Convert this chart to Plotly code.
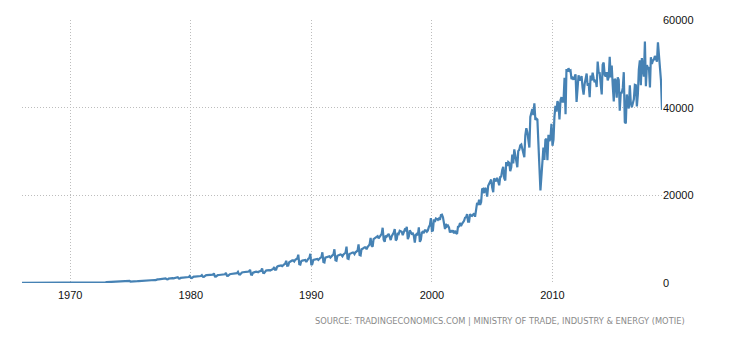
import pandas as pd
import plotly.graph_objects as go

# Monthly exports, USD million, Jan 1966 - Feb 2019
exports_1966_1969 = [
    15, 16, 19, 20, 21, 20, 22, 21, 22, 23, 24, 27,
    20, 22, 25, 26, 27, 27, 28, 27, 28, 29, 30, 35,
    28, 30, 35, 37, 38, 38, 40, 38, 40, 41, 43, 50,
    40, 42, 48, 50, 52, 53, 54, 52, 54, 56, 58, 66,
]
exports_1970s = [
    55, 56, 65, 68, 70, 71, 72, 70, 73, 75, 78, 85,
    70, 72, 84, 87, 89, 90, 92, 88, 92, 95, 98, 110,
    105, 108, 125, 130, 135, 138, 140, 135, 140, 145, 150, 175,
    190, 200, 240, 255, 265, 275, 280, 275, 285, 295, 300, 360,
    330, 320, 360, 370, 380, 385, 375, 350, 365, 370, 385, 470,
    330, 320, 390, 410, 420, 430, 430, 410, 440, 460, 480, 560,
    500, 490, 600, 630, 640, 650, 660, 640, 670, 700, 720, 820,
    680, 650, 780, 820, 840, 850, 860, 830, 870, 900, 920, 1040,
    850, 820, 990, 1040, 1060, 1080, 1090, 1050, 1100, 1130, 1160, 1330,
    1020, 1000, 1190, 1230, 1260, 1280, 1280, 1230, 1300, 1330, 1360, 1580,
]
exports_1980s = [
    1200, 1150, 1380, 1440, 1460, 1480, 1500, 1430, 1510, 1560, 1600, 1800,
    1450, 1420, 1680, 1750, 1780, 1800, 1800, 1740, 1830, 1880, 1920, 2200,
    1500, 1480, 1740, 1800, 1830, 1850, 1850, 1780, 1880, 1930, 1980, 2330,
    1650, 1620, 1930, 2010, 2050, 2080, 2070, 1980, 2110, 2170, 2240, 2540,
    2000, 1950, 2310, 2400, 2450, 2480, 2480, 2380, 2520, 2590, 2660, 3020,
    1950, 1900, 2380, 2480, 2540, 2570, 2560, 2450, 2620, 2700, 2790, 3330,
    2300, 2250, 2720, 2850, 2900, 2950, 2950, 2850, 3010, 3120, 3200, 3620,
    3000, 3050, 3700, 3850, 3950, 4000, 4000, 3850, 4150, 4250, 4400, 5080,
    3950, 4000, 4750, 4950, 5050, 5150, 5150, 4900, 5300, 5450, 5600, 6450,
    4300, 4200, 4950, 5100, 5200, 5300, 5250, 4800, 5350, 5550, 5700, 6650,
]
exports_1990s = [
    4100, 4350, 5250, 5300, 5400, 5500, 5500, 5250, 5600, 5750, 5900, 7000,
    4800, 4700, 5800, 5900, 6000, 6100, 6100, 5800, 6150, 6300, 6500, 7700,
    5200, 5100, 6200, 6300, 6400, 6500, 6400, 6100, 6500, 6700, 6900, 8300,
    5600, 5500, 6600, 6700, 6850, 6950, 6950, 6600, 7000, 7250, 7400, 8800,
    6400, 6300, 7700, 7800, 8000, 8150, 8150, 7700, 8200, 8500, 8800, 10300,
    8500, 8300, 10000, 10200, 10400, 10600, 10700, 10200, 10600, 11000, 11200, 12600,
    9900, 9400, 10800, 10600, 11000, 11200, 10500, 9800, 10700, 11100, 11500, 12300,
    9700, 10000, 11400, 11200, 11900, 11800, 11700, 10900, 11500, 12200, 12000, 12800,
    10000, 10600, 12000, 11500, 11200, 11300, 10800, 9200, 11000, 11200, 10900, 12700,
    9400, 9900, 11500, 11700, 11400, 12000, 12000, 11700, 12000, 12800, 13200, 14800,
]
exports_2000s = [
    11900, 12000, 14500, 13900, 14700, 14600, 14400, 14700, 14400, 15500, 15600, 15000,
    13300, 12300, 13500, 12900, 13100, 12700, 11500, 12000, 11600, 12000, 11300, 11900,
    11400, 11200, 12800, 12900, 13700, 13000, 13500, 13800, 14200, 14900, 15000, 15700,
    14000, 14000, 15700, 15400, 15300, 15600, 15900, 15100, 17600, 18300, 17800, 19000,
    17800, 18500, 21400, 21500, 20500, 21700, 21300, 19700, 22200, 22700, 23300, 23600,
    21800, 20700, 23900, 23600, 23200, 24000, 22900, 22300, 24200, 24300, 25800, 26500,
    23900, 23400, 27600, 26700, 27600, 27400, 25500, 26400, 29300, 27300, 30500, 28600,
    27800, 26400, 30100, 30400, 31400, 31600, 30700, 29600, 28700, 33700, 35300, 34400,
    32900, 30900, 37900, 39200, 39700, 38300, 41000, 37200, 37500, 37300, 29300, 26500,
    21100, 25400, 28100, 30900, 28100, 32700, 32900, 28000, 33800, 32400, 33000, 36300,
]
exports_2010s = [
    31300, 32700, 37900, 40400, 39100, 41500, 40900, 37300, 41700, 42400, 41400, 41400,
    46800, 38500, 48800, 48200, 49000, 48400, 48500, 46500, 46800, 46400, 47000, 47600,
    41300, 46300, 47400, 46200, 47000, 47200, 44600, 43000, 45400, 47100, 47800, 45000,
    45600, 42400, 47300, 46200, 48000, 46700, 45800, 46400, 44700, 50500, 48000, 47900,
    45600, 43000, 49800, 50300, 47500, 47100, 48100, 46200, 47000, 51600, 46900, 49600,
    45000, 41400, 46600, 46200, 42300, 46900, 46300, 39300, 43400, 43400, 44500, 48100,
    36700, 36400, 43000, 41000, 39800, 45100, 41000, 40100, 40800, 41900, 45200, 45100,
    40300, 43200, 48700, 50800, 45100, 51300, 48900, 47100, 55100, 44900, 49700, 49000,
    49200, 44600, 51500, 50000, 50700, 51000, 51800, 51200, 50500, 54900, 51900, 48400,
    46200, 39500,
]

values = (exports_1966_1969 + exports_1970s + exports_1980s
          + exports_1990s + exports_2000s + exports_2010s)
dates = pd.date_range("1966-01-01", periods=len(values), freq="MS")

x_ticks = ["1970-01-01", "1980-01-01", "1990-01-01", "2000-01-01", "2010-01-01"]
x_tick_labels = ["1970", "1980", "1990", "2000", "2010"]
y_ticks = [0, 20000, 40000, 60000]
y_tick_labels = ["0", "20000", "40000", "60000"]
source_text = "SOURCE: TRADINGECONOMICS.COM | MINISTRY OF TRADE, INDUSTRY &amp; ENERGY (MOTIE)"

fig = go.Figure()
fig.add_trace(go.Scatter(
    x=dates, y=values, mode="lines",
    line=dict(color="#4682b4", width=2.2),
    hoverinfo="skip",
))

fig.update_layout(
    width=730, height=340,
    margin=dict(l=22, r=68, t=20, b=57),
    paper_bgcolor="white", plot_bgcolor="white",
    showlegend=False,
    font=dict(family="Liberation Sans", size=11, color="#111111"),
)
fig.update_xaxes(
    range=[dates[0], dates[-1]],
    tickvals=x_ticks, ticktext=x_tick_labels,
    showgrid=True, gridcolor="#bdbdbd", griddash="1px,2px", gridwidth=1,
    showline=False, zeroline=False,
    ticks="outside", ticklen=2, tickcolor="rgba(0,0,0,0)",
    tickfont=dict(size=11, color="#111111"),
)
fig.update_yaxes(
    range=[0, 60000], side="right",
    tickvals=y_ticks, ticktext=y_tick_labels,
    showgrid=True, gridcolor="#bdbdbd", griddash="1px,2px", gridwidth=1,
    showline=False, zeroline=False,
    ticks="", tickfont=dict(size=11, color="#111111"),
)
fig.add_annotation(
    xref="paper", yref="paper", x=1.039, y=-0.145,
    xanchor="right", yanchor="middle", showarrow=False,
    text=source_text,
    font=dict(family="DejaVu Sans", size=8.3, color="#8a8a8a"),
)
fig.write_html("out.html")
